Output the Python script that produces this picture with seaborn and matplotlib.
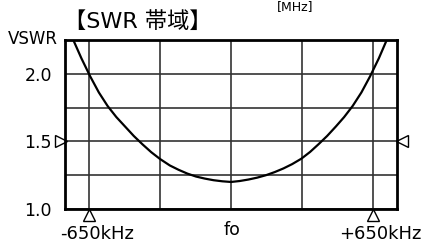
"""
SWR 帯域チャート
"""

import matplotlib
matplotlib.use("Agg")
import matplotlib.pyplot as plt
import matplotlib.transforms as mtransforms
import seaborn as sns
import pandas as pd

# データ（周波数オフセット kHz / VSWR）
freq_khz = [-722, -685, -645, -605, -565, -525, -485, -445, -405, -365,
            -325, -280, -240, -200, -160, -120, -80, -40, 0,
            40, 80, 120, 160, 200, 240, 280, 322, 362, 400,
            440, 480, 518, 557, 597, 637, 677, 713]
vswr = [2.25, 2.115, 1.982, 1.862, 1.762, 1.68, 1.61, 1.54, 1.478, 1.42,
        1.37, 1.322, 1.29, 1.262, 1.24, 1.225, 1.213, 1.205, 1.20,
        1.207, 1.218, 1.232, 1.25, 1.273, 1.30, 1.332, 1.372, 1.422, 1.478,
        1.54, 1.61, 1.68, 1.762, 1.862, 1.982, 2.115, 2.25]

x_grid = [-650, -325, 0, 325, 650]
y_grid = [1.0, 1.25, 1.5, 1.75, 2.0, 2.25]
y_labels = ['1.0', '', '1.5', '', '2.0', '']
band_edges = [-650, 650]
band_labels = ['-650kHz', '+650kHz']
center_label = 'fo'
ref_vswr = 1.5

sns.set_style("white")
plt.rcParams['font.family'] = ['DejaVu Sans', 'Noto Sans CJK JP']
plt.rcParams['text.color'] = 'black'
plt.rcParams['ytick.color'] = 'black'
plt.rcParams['xtick.color'] = 'black'

df = pd.DataFrame({'freq': freq_khz, 'vswr': vswr})

fig = plt.figure(figsize=(4.23, 2.44), dpi=100)
ax = fig.add_axes([65 / 423, 1 - 209 / 244, 332 / 423, 169 / 244])

sns.lineplot(data=df, x='freq', y='vswr', ax=ax, color='black', lw=1.6, sort=False)

ax.set_xlim(-760, 760)
ax.set_ylim(1.0, 2.25)
ax.set_xticks(x_grid)
ax.set_xticklabels([])
ax.set_yticks(y_grid)
ax.set_yticklabels(y_labels, fontsize=12.5)
ax.tick_params(length=0, pad=9.5)
ax.grid(True, color='#333333', lw=1.2)
ax.set_axisbelow(True)
ax.set_xlabel('')
ax.set_ylabel('')
for sp in ax.spines.values():
    sp.set_color('black')
    sp.set_linewidth(2.0)

# 帯域端マーカー（下側）
down = mtransforms.ScaledTranslation(0, -6 / 100, fig.dpi_scale_trans)
ax.plot(band_edges, [1.0, 1.0], ls='none', marker='^', ms=9, mfc='white',
        mec='black', mew=1.0, clip_on=False, transform=ax.transData + down)

# VSWR 1.5 マーカー（左右）
left = mtransforms.ScaledTranslation(-4.5 / 100, 0, fig.dpi_scale_trans)
right = mtransforms.ScaledTranslation(4.5 / 100, 0, fig.dpi_scale_trans)
ax.plot([-760], [ref_vswr], ls='none', marker='>', ms=8.5, mfc='white',
        mec='black', mew=1.0, clip_on=False, transform=ax.transData + left)
ax.plot([760], [ref_vswr], ls='none', marker='<', ms=8.5, mfc='white',
        mec='black', mew=1.0, clip_on=False, transform=ax.transData + right)

# x ラベル
ax.annotate(band_labels[0], xy=(band_edges[0], 1.0), xycoords='data', xytext=(-29, -30),
            textcoords='offset pixels', ha='left', va='baseline',
            fontsize=13, annotation_clip=False)
ax.annotate(band_labels[1], xy=(band_edges[1], 1.0), xycoords='data', xytext=(49, -30),
            textcoords='offset pixels', ha='right', va='baseline',
            fontsize=13, annotation_clip=False)
ax.annotate(center_label, xy=(0, 1.0), xycoords='data', xytext=(1, -26),
            textcoords='offset pixels', ha='center', va='baseline',
            fontsize=12.5, annotation_clip=False)

fig.text(64 / 423, 1 - 28.5 / 244, '【SWR 帯域】', fontsize=16, ha='left', va='baseline')
fig.text(8 / 423, 1 - 43.5 / 244, 'VSWR', fontsize=12, ha='left', va='baseline')
fig.text(295 / 423, 1 - 0.5 / 244, '[MHz]', fontsize=9, ha='center', va='top')

fig.savefig('out.png', dpi=100)
